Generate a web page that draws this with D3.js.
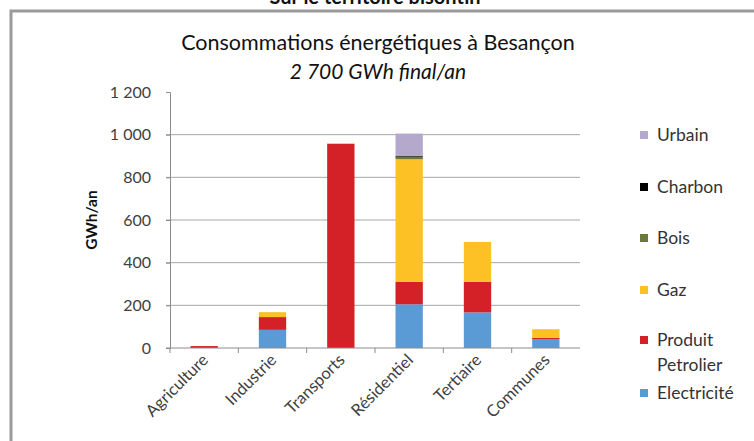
<!DOCTYPE html>
<html><head><meta charset="utf-8">
<script src="https://cdn.jsdelivr.net/npm/d3@7"></script>
<style>body{margin:0;background:#fff}svg{display:block}text{font-family:Lato,"Open Sans",sans-serif}</style>
</head><body><svg id="c" width="754" height="441"></svg>
<script>
const categories = ["Agriculture","Industrie","Transports","Résidentiel","Tertiaire","Communes"];
const seriesNames = ["Electricité","Produit Petrolier","Gaz","Bois","Charbon","Urbain"];
const electricite = [0, 85, 0, 205, 167, 40];
const produitPetrolier = [9, 60, 957, 105, 143, 8];
const gaz = [0, 23, 3, 575, 187, 40];
const bois = [0, 0, 0, 12, 0, 0];
const charbon = [0, 0, 0, 3, 0, 0];
const urbain = [0, 0, 0, 105, 0, 0];
const yTicks = [0, 200, 400, 600, 800, 1000, 1200];
const colors = ["#5b9bd5","#d42027","#fdc125","#6b7a3a","#000000","#b4a9cc"];

const seriesValues = [electricite, produitPetrolier, gaz, bois, charbon, urbain];
const rows = categories.map((c,i)=>{const r={cat:c}; seriesNames.forEach((s,j)=>r[s]=seriesValues[j][i]); return r;});
const stacked = d3.stack().keys(seriesNames)(rows);

const svg = d3.select("#c");
// frame
svg.append("path").attr("d","M11,441 L11,11 L754,11").attr("fill","none").attr("stroke","#9a9a9a").attr("stroke-width",3);

svg.append("text").attr("x",375).attr("y",4).attr("text-anchor","middle").attr("font-weight","bold").attr("font-size",20).attr("fill","#111").text("Sur le territoire bisontin");
svg.append("text").attr("x",378).attr("y",50).attr("text-anchor","middle").attr("font-size",21.5).attr("fill","#111").text("Consommations  énergétiques à Besançon");
svg.append("text").attr("x",378).attr("y",79).attr("text-anchor","middle").attr("font-size",21).attr("font-style","italic").attr("fill","#111").text("2 700 GWh final/an");

const x = d3.scaleBand().domain(categories).range([170,580]).paddingInner(0.6).paddingOuter(0.3);
const y = d3.scaleLinear().domain([0,1200]).range([348,92]);

// gridlines
svg.append("g").selectAll("line").data(yTicks.filter(t=>t>0 && t<1200)).join("line")
  .attr("x1",166).attr("x2",580).attr("y1",d=>y(d)).attr("y2",d=>y(d)).attr("stroke","#a6a6a6").attr("stroke-width",1);

// y axis
const yAxis = d3.axisLeft(y).tickValues(yTicks).tickSize(4).tickPadding(15)
  .tickFormat(d=>d3.format(",")(d).replace(","," "));
const gy = svg.append("g").attr("transform","translate(170,0)").call(yAxis);
gy.select(".domain").attr("stroke","#8c8c8c");
gy.selectAll(".tick line").attr("stroke","#8c8c8c");
gy.selectAll("text").attr("font-size",16).attr("fill","#404040").style("font-family","Lato,sans-serif");

svg.append("text").attr("transform","translate(97,220) rotate(-90)").attr("text-anchor","middle")
  .attr("font-size",15.5).attr("font-weight","bold").attr("fill","#111").text("GWh/an");

// bars
svg.append("g").selectAll("g").data(stacked).join("g").attr("fill",(d,i)=>colors[i])
  .selectAll("rect").data(d=>d).join("rect")
  .attr("x",d=>x(d.data.cat)).attr("width",x.bandwidth())
  .attr("y",d=>y(d[1])).attr("height",d=>y(d[0])-y(d[1]));

// x axis
const gx = svg.append("g").attr("transform","translate(0,348)");
gx.append("line").attr("x1",166).attr("x2",580).attr("stroke","#8c8c8c");
const bounds = d3.range(categories.length).map(i=>170+i*(410/categories.length));
gx.selectAll(".tk").data(bounds).join("line").attr("class","tk")
  .attr("x1",d=>d).attr("x2",d=>d).attr("y1",0).attr("y2",5).attr("stroke","#8c8c8c");
gx.selectAll(".lb").data(categories).join("text").attr("class","lb")
  .attr("transform",d=>`translate(${x(d)+x.bandwidth()/2+5},${13}) rotate(-45)`)
  .attr("text-anchor","end").attr("font-size",16.5).attr("fill","#404040").text(d=>d);

// legend
const legendY = {"Urbain":135,"Charbon":187,"Bois":238,"Gaz":290,"Produit Petrolier":340,"Electricité":393};
const lg = svg.append("g");
seriesNames.forEach((s,i)=>{
  const yy = legendY[s];
  lg.append("rect").attr("x",640).attr("y",yy-4).attr("width",8).attr("height",8).attr("fill",colors[i]);
  const t = lg.append("text").attr("x",657).attr("y",yy+6).attr("font-size",17.5).attr("fill","#333");
  if (s==="Produit Petrolier") {
    t.append("tspan").text("Produit");
    t.append("tspan").attr("x",657).attr("dy",25).text("Petrolier");
  } else t.text(s);
});
</script></body></html>
